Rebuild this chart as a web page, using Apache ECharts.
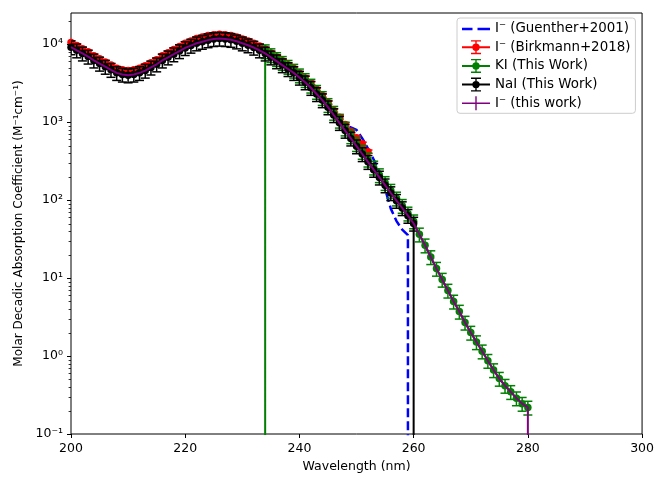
<!DOCTYPE html>
<html><head><meta charset="utf-8">
<script src="https://cdn.jsdelivr.net/npm/echarts@6/dist/echarts.min.js"></script>
<style>html,body{margin:0;padding:0;background:#fff}#c{width:657px;height:478px}</style>
</head><body><div id="c"></div>
<script>
// ---- data ----
const xTicks = [200, 220, 240, 260, 280, 300];
const yTickPowers = [-1, 0, 1, 2, 3, 4];

// "I⁻ (this work)" – purple
const purpleWl = [200,201,202,203,204,205,206,207,208,209,210,211,212,213,214,215,216,217,218,219,220,221,222,223,224,225,226,227,228,229,230,231,232,233,234,235,236,237,238,239,240,241,242,243,244,245,246,247,248,249,250,251,252,253,254,255,256,257,258,259,260,261,262,263,264,265,266,267,268,269,270,271,272,273,274,275,276,277,278,279,280,280];
const purpleVals = [9120,8320,7590,6920,6170,5620,5130,4680,4270,4070,3980,4070,4270,4570,5010,5500,6170,6760,7410,8130,8910,9550,10230,10720,11220,11610,11750,11610,11350,10840,10230,9660,9020,8320,7590,6760,6030,5370,4790,4270,3720,3240,2750,2290,1910,1550,1230,977,776,617,490,389,309,245,195,155,123,98,79,63,50,36.3,26.3,18.6,13.2,9.55,6.92,5.01,3.72,2.69,2.00,1.51,1.15,0.871,0.661,0.513,0.417,0.347,0.288,0.245,0.219,0];

// NaI (This Work) – black
const blackWl = [200,201,202,203,204,205,206,207,208,209,210,211,212,213,214,215,216,217,218,219,220,221,222,223,224,225,226,227,228,229,230,231,232,233,234,235,236,237,238,239,240,241,242,243,244,245,246,247,248,249,250,251,252,253,254,255,256,257,258,259,260,260];
const blackVals = [9120,8320,7590,6920,6170,5620,5130,4680,4270,4070,3980,4070,4270,4570,5010,5500,6170,6760,7410,8130,8910,9550,10230,10720,11220,11610,11750,11610,11350,10840,10230,9660,9020,8320,7590,6760,6030,5370,4790,4270,3720,3240,2750,2290,1910,1550,1230,977,776,617,490,389,309,245,195,155,123,98,79,63,50,0];
const blackRelErr = 0.2;

// KI (This Work) – green
const greenWl = [234,234,235,236,237,238,239,240,241,242,243,244,245,246,247,248,249,250,251,252,253,254,255,256,257,258,259,260,261,262,263,264,265,266,267,268,269,270,271,272,273,274,275,276,277,278,279,280];
const greenVals = [0,8120,7230,6450,5750,5130,4570,3980,3470,2940,2450,2040,1660,1320,1045,830,660,524,416,331,262,209,166,132,105,84.5,67.4,53.5,36.3,26.3,18.6,13.2,9.55,6.92,5.01,3.72,2.69,2.00,1.51,1.15,0.871,0.661,0.513,0.417,0.347,0.288,0.245,0.219];
const greenRelErr = 0.2;

// I⁻ (Birkmann+2018) – red
const redWl = [200,201,202,203,204,205,206,207,208,209,210,211,212,213,214,215,216,217,218,219,220,221,222,223,224,225,226,227,228,229,230,231,232,233,234,235,236,237,238,239,240,241,242,243,244,245,246,247,248,249,250,251,252];
const redVals = [10470,9550,8710,7940,7080,6460,5890,5370,4900,4680,4570,4680,4900,5250,5750,6310,7080,7760,8510,9330,10230,10960,11750,12300,12880,13180,13340,13180,12880,12300,11610,10960,10230,9440,8610,7670,6840,6100,5430,4840,4220,3670,3160,2630,2190,1780,1410,1150,933,759,631,525,417];
const redRelErr = 0.05;

// I⁻ (Guenther+2001) – blue dashed
const blueWl = [200,201,202,203,204,205,206,207,208,209,210,211,212,213,214,215,216,217,218,219,220,221,222,223,224,225,226,227,228,229,230,231,232,233,234,235,236,237,238,239,240,241,242,243,244,245,246,247,248,249,250,251,252,253,254,255,256,257,258,259,259];
const blueVals = [9120,8320,7590,6920,6170,5620,5130,4680,4270,4070,3980,4070,4270,4570,5010,5500,6170,6760,7410,8130,8910,9550,10230,10720,11220,11610,11750,11610,11350,10840,10230,9660,9020,8320,7590,6760,6030,5370,4790,4270,3720,3240,2750,2290,1910,1550,1260,1050,912,851,794,617,457,331,234,138,77.6,53.7,41.7,35.5,0];

const names = ['I\u207B (Guenther+2001)', 'I\u207B (Birkmann+2018)', 'KI (This Work)', 'NaI (This Work)', 'I\u207B (this work)'];

// ---- helpers ----
const LOG_FLOOR = 1e-6; // non-positive values clipped like a log axis does
function pairs(wl, vals) {
  return wl.map((x, i) => vals[i] > 0 ? [x, vals[i]] : {value: [x, LOG_FLOOR], symbol: 'none'});
}
function errData(wl, vals, rel) {
  const out = [];
  wl.forEach((x, i) => { if (vals[i] > 0) out.push([x, vals[i] * (1 - rel), vals[i] * (1 + rel)]); });
  return out;
}
function errRender(color, capW, lw) {
  return function (params, api) {
    const x = api.value(0);
    const p1 = api.coord([x, api.value(1)]);
    const p2 = api.coord([x, api.value(2)]);
    const st = {stroke: color, lineWidth: lw};
    return {type: 'group', children: [
      {type: 'line', shape: {x1: p1[0], y1: p1[1], x2: p2[0], y2: p2[1]}, style: st},
      {type: 'line', shape: {x1: p1[0] - capW / 2, y1: p1[1], x2: p1[0] + capW / 2, y2: p1[1]}, style: st},
      {type: 'line', shape: {x1: p2[0] - capW / 2, y1: p2[1], x2: p2[0] + capW / 2, y2: p2[1]}, style: st}
    ]};
  };
}
const supMap = {'-': '\u207B', '0': '\u2070', '1': '\u00B9', '2': '\u00B2', '3': '\u00B3', '4': '\u2074', '5': '\u2075'};
function sup(s) { return String(s).split('').map(c => supMap[c] || c).join(''); }

// y tick marks (major at powers of ten, minor at 2..9 x 10^n)
const yTickMarks = [];
yTickPowers.forEach(p => {
  yTickMarks.push([200, Math.pow(10, p), 1]);
  for (let k = 2; k <= 9; k++) {
    const v = k * Math.pow(10, p);
    if (v <= 25000) yTickMarks.push([200, v, 0]);
  }
});

const errIcon = 'path://M0,6 L28,6 L28,8 L0,8 Z M13.3,0 L14.7,0 L14.7,14 L13.3,14 Z M9,0 L19,0 L19,1.4 L9,1.4 Z M9,12.6 L19,12.6 L19,14 L9,14 Z M10.3,7 A3.7,3.7 0 1 1 17.7,7 A3.7,3.7 0 1 1 10.3,7 Z';
const barIcon = 'path://M0,6.2 L28,6.2 L28,7.8 L0,7.8 Z M13.3,0 L14.7,0 L14.7,14 L13.3,14 Z';
const dashIcon = 'path://M0,0 L10.5,0 L10.5,2.5 L0,2.5 Z M15.5,0 L28,0 L28,2.5 L15.5,2.5 Z';

const FONT = 'DejaVu Sans';
const chart = echarts.init(document.getElementById('c'), null, {renderer: 'canvas'});
chart.setOption({
  animation: false,
  backgroundColor: '#fff',
  textStyle: {fontFamily: FONT},
  grid: {left: 71, right: 13, top: 13, bottom: 38, show: true, borderColor: '#000', borderWidth: 1, backgroundColor: 'transparent'},
  legend: {
    orient: 'vertical', left: 457, top: 18, itemWidth: 28, itemHeight: 14, itemGap: 4.7,
    symbolKeepAspect: true,
    padding: [4.5, 5, 3, 5], borderColor: '#cccccc', borderWidth: 1, borderRadius: 3,
    backgroundColor: 'rgba(255,255,255,0.8)', selectedMode: false,
    textStyle: {fontFamily: FONT, fontSize: 13.4, color: '#000'},
    data: [
      {name: names[0], icon: dashIcon, itemStyle: {color: '#0000ff'}},
      {name: names[1], icon: errIcon, itemStyle: {color: '#ff0000'}},
      {name: names[2], icon: errIcon, itemStyle: {color: '#008000'}},
      {name: names[3], icon: errIcon, itemStyle: {color: '#000000'}},
      {name: names[4], icon: barIcon, itemStyle: {color: '#800080'}}
    ]
  },
  xAxis: {
    type: 'value', min: xTicks[0], max: xTicks[xTicks.length - 1], interval: 20,
    name: 'Wavelength (nm)', nameLocation: 'middle', nameGap: 26,
    nameTextStyle: {fontFamily: FONT, fontSize: 12.5, color: '#000'},
    axisLine: {show: false}, splitLine: {show: false},
    axisTick: {show: true, inside: false, length: 4, lineStyle: {color: '#000', width: 1}},
    axisLabel: {margin: 8, fontFamily: FONT, fontSize: 12.5, color: '#000'}
  },
  yAxis: {
    type: 'log', logBase: 10, min: 0.1, max: 25000,
    name: 'Molar Decadic Absorption Coefficient (M\u207B\u00B9cm\u207B\u00B9)', nameLocation: 'middle', nameGap: 42,
    nameTextStyle: {fontFamily: FONT, fontSize: 12, color: '#000'},
    axisLine: {show: false}, splitLine: {show: false}, axisTick: {show: false}, minorTick: {show: false},
    axisLabel: {
      margin: 8, fontFamily: FONT, fontSize: 12.5, color: '#000',
      formatter: function (v) {
        const l = Math.log10(v);
        const r = Math.round(l);
        if (Math.abs(l - r) > 1e-6 || yTickPowers.indexOf(r) < 0) return '';
        return '10' + sup(r);
      }
    }
  },
  series: [
    {type: 'line', name: names[0], data: pairs(blueWl, blueVals), symbol: 'none', clip: true, z: 2,
     lineStyle: {color: '#0000ff', width: 2.5, type: [9, 4]}, itemStyle: {color: '#0000ff'}},
    {type: 'custom', data: errData(redWl, redVals, redRelErr), encode: {x: 0, y: [1, 2]}, clip: true, z: 3,
     renderItem: errRender('#ff0000', 9, 1.5)},
    {type: 'line', name: names[1], data: pairs(redWl, redVals), symbol: 'circle', symbolSize: 7.5, clip: true, z: 4,
     lineStyle: {color: '#ff0000', width: 2}, itemStyle: {color: '#ff0000'}},
    {type: 'custom', data: errData(greenWl, greenVals, greenRelErr), encode: {x: 0, y: [1, 2]}, clip: true, z: 5,
     renderItem: errRender('#008000', 9, 1.5)},
    {type: 'line', name: names[2], data: pairs(greenWl, greenVals), symbol: 'circle', symbolSize: 7.5, clip: true, z: 6,
     lineStyle: {color: '#008000', width: 2}, itemStyle: {color: '#008000'}},
    {type: 'custom', data: errData(blackWl, blackVals, blackRelErr), encode: {x: 0, y: [1, 2]}, clip: true, z: 7,
     renderItem: errRender('#000000', 9, 1.5)},
    {type: 'line', name: names[3], data: pairs(blackWl, blackVals), symbol: 'circle', symbolSize: 7.5, clip: true, z: 8,
     lineStyle: {color: '#000000', width: 2}, itemStyle: {color: '#000000'}},
    {type: 'line', name: names[4], data: pairs(purpleWl, purpleVals), symbol: 'none', clip: true, z: 9,
     lineStyle: {color: '#800080', width: 2}, itemStyle: {color: '#800080'}},
    {type: 'custom', data: yTickMarks, encode: {x: 0, y: 1}, clip: false, z: 10, silent: true,
     renderItem: function (params, api) {
       const p = api.coord([api.value(0), api.value(1)]);
       const len = api.value(2) ? 4 : 2.4;
       const y = Math.round(p[1]) + 0.5;
       return {type: 'line', shape: {x1: p[0] - len, y1: y, x2: p[0], y2: y},
               style: {stroke: '#000', lineWidth: api.value(2) ? 1 : 0.8}};
     }}
  ]
});
</script></body></html>
